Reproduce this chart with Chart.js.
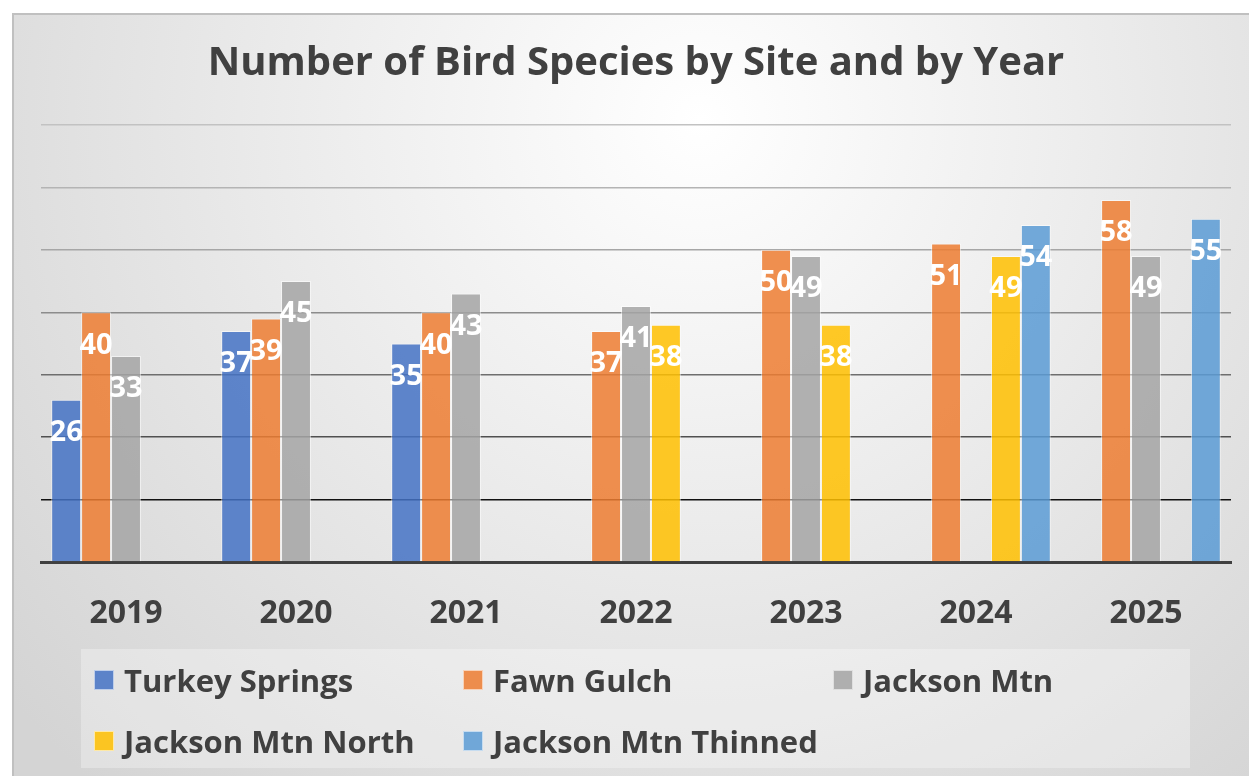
<!DOCTYPE html>
<html>
<head>
<meta charset="utf-8">
<title>Number of Bird Species by Site and by Year</title>
<script src="https://cdn.jsdelivr.net/npm/chart.js@4.4.1/dist/chart.umd.min.js"></script>
<style>
  html, body { margin: 0; padding: 0; background: #fff; }
  #wrap { position: relative; width: 1249px; height: 776px; }
  #chart { position: absolute; left: 0; top: 0; }
  #legend { position: absolute; left: 81px; top: 649px; width: 1109px; height: 119px;
            background: rgba(255,255,255,0.3); font-family: "Open Sans", sans-serif; }
  .item { position: absolute; display: flex; align-items: center; height: 40px;
          font-weight: bold; font-size: 31px; color: #404040; white-space: nowrap; }
  .item span.box { display: inline-block; width: 18px; height: 18px; margin-right: 10px;
                   border: 1px solid rgba(255,255,255,0.6); }
</style>
</head>
<body>
<div id="wrap">
  <canvas id="chart" width="1249" height="776"></canvas>
  <div id="legend"></div>
</div>
<script>
// categories
const years = ["2019", "2020", "2021", "2022", "2023", "2024", "2025"];

// number of species per site
const turkeySprings     = [26, 37, 35, null, null, null, null];
const fawnGulch         = [40, 39, 40, 37, 50, 51, 58];
const jacksonMtn        = [33, 45, 43, 41, 49, null, 49];
const jacksonMtnNorth   = [null, null, null, 38, 38, 49, null];
const jacksonMtnThinned = [null, null, null, null, null, 54, 55];

const seriesNames = ["Turkey Springs", "Fawn Gulch", "Jackson Mtn", "Jackson Mtn North", "Jackson Mtn Thinned"];
const seriesData = [turkeySprings, fawnGulch, jacksonMtn, jacksonMtnNorth, jacksonMtnThinned];
const seriesColors = ["rgba(68,114,196,0.85)", "rgba(237,125,49,0.85)", "rgba(165,165,165,0.85)",
                      "rgba(255,192,0,0.85)", "rgba(91,155,213,0.85)"];

// grid line shade by value (darker towards the bottom)
const gridShades = { 10: "#111111", 20: "#505050", 30: "#6e6e6e", 40: "#8c8c8c",
                     50: "#a6a6a6", 60: "#b4b4b4", 70: "#c2c2c2" };

const FONT = '"Open Sans", sans-serif';

const bgPlugin = {
    id: "bg",
    beforeDraw(chart) {
        const ctx = chart.ctx;
        const w = chart.width, h = chart.height;
        ctx.save();
        ctx.fillStyle = "#ffffff";
        ctx.fillRect(0, 0, w, h);
        const g = ctx.createRadialGradient(700, 120, 0, 700, 120, 900);
        g.addColorStop(0, "#ffffff");
        g.addColorStop(1, "#d4d4d4");
        ctx.fillStyle = g;
        ctx.fillRect(13, 14, w - 13, h - 14);
        ctx.strokeStyle = "#c0c0c0";
        ctx.lineWidth = 2;
        ctx.beginPath();
        ctx.moveTo(13, h);
        ctx.lineTo(13, 14);
        ctx.lineTo(w, 14);
        ctx.stroke();
        ctx.restore();
    }
};

const labelPlugin = {
    id: "barLabels",
    afterDatasetsDraw(chart) {
        const ctx = chart.ctx;
        ctx.save();
        ctx.font = "bold 29px " + FONT;
        ctx.fillStyle = "#ffffff";
        ctx.textAlign = "center";
        ctx.textBaseline = "middle";
        chart.data.datasets.forEach((ds, i) => {
            chart.getDatasetMeta(i).data.forEach((bar, j) => {
                const v = ds.data[j];
                if (v === null) return;
                ctx.fillText(String(v), bar.x, bar.y + 33);
            });
        });
        ctx.restore();
    }
};

const chart = new Chart(document.getElementById("chart"), {
    type: "bar",
    data: {
        labels: years,
        datasets: seriesNames.map((name, i) => ({
            label: name,
            data: seriesData[i],
            backgroundColor: seriesColors[i],
            borderColor: "rgba(255,255,255,0.55)",
            borderWidth: 1,
            categoryPercentage: 0.88,
            barPercentage: 1.0
        }))
    },
    options: {
        responsive: false,
        animation: false,
        layout: { padding: { left: 41, right: 18, top: 0, bottom: 0 } },
        plugins: {
            legend: { display: false },
            tooltip: { enabled: false },
            title: {
                display: true,
                text: "Number of Bird Species by Site and by Year",
                color: "#404040",
                font: { family: FONT, size: 40, weight: "bold", lineHeight: 1.2 },
                padding: { top: 40, bottom: 37 }
            }
        },
        scales: {
            x: {
                grid: { display: false, drawTicks: false },
                border: { display: true, color: "#404040", width: 3 },
                ticks: { color: "#404040", padding: 33, font: { family: FONT, size: 32, weight: "bold" } },
                afterFit(scale) { scale.height = 214; }
            },
            y: {
                min: 0,
                max: 70,
                ticks: { display: false, stepSize: 10 },
                border: { display: false },
                grid: {
                    drawTicks: false,
                    lineWidth: 1.5,
                    color: (c) => (c.tick && gridShades[c.tick.value]) || "rgba(0,0,0,0)"
                },
                afterFit(scale) { scale.width = 0; }
            }
        }
    },
    plugins: [bgPlugin, labelPlugin]
});

// legend, three columns
const legend = document.getElementById("legend");
const colX = [13, 382, 752];
const rowY = [11, 72];
seriesNames.forEach((name, i) => {
    const item = document.createElement("div");
    item.className = "item";
    item.style.left = colX[i % 3] + "px";
    item.style.top = rowY[Math.floor(i / 3)] + "px";
    item.innerHTML = `<span class="box" style="background:${seriesColors[i]}"></span>${name}`;
    legend.appendChild(item);
});
</script>
</body>
</html>
